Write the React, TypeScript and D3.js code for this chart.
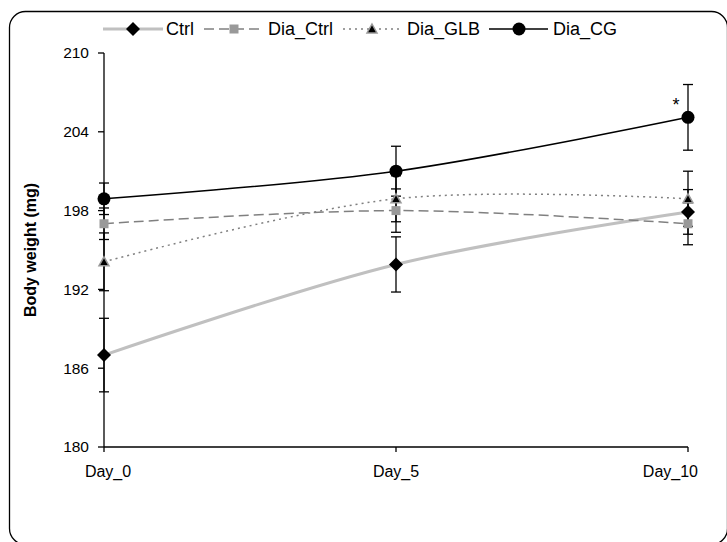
import React from "react";
import * as d3 from "d3";

const categories = ["Day_0", "Day_5", "Day_10"];
const seriesNames = ["Ctrl", "Dia_Ctrl", "Dia_GLB", "Dia_CG"];
const ctrlValues = [187.0, 193.9, 197.9];
const diaCtrlValues = [197.0, 198.0, 197.0];
const diaGlbValues = [194.1, 198.9, 198.9];
const diaCgValues = [198.9, 201.0, 205.1];
const ctrlErr = [2.8, 2.1, 1.7];
const diaCtrlErr = [1.2, 1.65, 1.6];
const diaGlbErr = [2.2, 1.75, 2.1];
const diaCgErr = [1.2, 1.9, 2.5];
const yTicks = [180, 186, 192, 198, 204, 210];

const W = 727;
const H = 542;
const FONT = "'Liberation Sans', Arial, sans-serif";

type Style = {
  stroke: string;
  width: number;
  dash?: string;
  marker: "diamond" | "square" | "triangle" | "circle";
};

const styles: Style[] = [
  { stroke: "#c0c0c0", width: 3, marker: "diamond" },
  { stroke: "#808080", width: 1.5, dash: "10,5", marker: "square" },
  { stroke: "#808080", width: 1.5, dash: "2,4", marker: "triangle" },
  { stroke: "#000000", width: 1.5, marker: "circle" },
];

function Marker({ kind, x, y }: { kind: Style["marker"]; x: number; y: number }) {
  if (kind === "diamond") {
    const s = 7;
    return <path d={`M${x},${y - s}L${x + s},${y}L${x},${y + s}L${x - s},${y}Z`} fill="#000" />;
  }
  if (kind === "square") {
    const s = 4.5;
    return <rect x={x - s} y={y - s} width={2 * s} height={2 * s} fill="#999999" />;
  }
  if (kind === "triangle") {
    const s = 5;
    return (
      <path
        d={`M${x},${y - s}L${x + s},${y + s * 0.8}L${x - s},${y + s * 0.8}Z`}
        fill="#000"
        stroke="#999999"
        strokeWidth={1.5}
      />
    );
  }
  return <circle cx={x} cy={y} r={6.5} fill="#000" />;
}

export default function App() {
  const x = d3.scalePoint<string>().domain(categories).range([104, 688]);
  const y = d3.scaleLinear().domain([180, 210]).range([447, 53]);
  const values = [ctrlValues, diaCtrlValues, diaGlbValues, diaCgValues];
  const errs = [ctrlErr, diaCtrlErr, diaGlbErr, diaCgErr];

  const line = d3
    .line<number>()
    .x((_, i) => x(categories[i]) as number)
    .y((d) => y(d))
    .curve(d3.curveCardinal.tension(0));

  const legendItems = [
    { x0: 103, x1: 163, m: 133, tx: 166 },
    { x0: 204, x1: 263, m: 234, tx: 268 },
    { x0: 343, x1: 401, m: 372, tx: 407 },
    { x0: 489, x1: 548, m: 519, tx: 553 },
  ];

  const n = categories.length;

  return (
    <svg
      width={W}
      height={H}
      style={{ position: "absolute", left: 0, top: 0, background: "#fff" }}
      fontFamily={FONT}
    >
      <rect x={9.5} y={11.5} width={718} height={533} rx={16} fill="#fff" stroke="#000" strokeWidth={1.3} />

      {/* error bars */}
      {values.map((vals, si) =>
        vals.map((v, i) => {
          const cx = x(categories[i]) as number;
          const e = errs[si][i];
          const yt = y(v + e);
          const yb = y(v - e);
          return (
            <g key={`e${si}-${i}`} stroke="#000" strokeWidth={1.3}>
              <line x1={cx} x2={cx} y1={yt} y2={yb} />
              <line x1={cx - 5} x2={cx + 5} y1={yt} y2={yt} />
              <line x1={cx - 5} x2={cx + 5} y1={yb} y2={yb} />
            </g>
          );
        })
      )}

      {/* axes */}
      <line x1={104} x2={104} y1={y(210)} y2={y(180)} stroke="#000" strokeWidth={1.3} />
      <line x1={104} x2={688} y1={y(180)} y2={y(180)} stroke="#000" strokeWidth={1.3} />
      {yTicks.map((t) => (
        <g key={t}>
          <line x1={98} x2={104} y1={y(t)} y2={y(t)} stroke="#000" strokeWidth={1.3} />
          <text x={89} y={y(t)} dy="0.35em" textAnchor="end" fontSize={15.5} fill="#000">
            {t}
          </text>
        </g>
      ))}
      {categories.map((c, i) => (
        <g key={c}>
          <line x1={x(c)} x2={x(c)} y1={y(180)} y2={y(180) + 5} stroke="#000" strokeWidth={1.3} />
          <text
            x={(x(c) as number) + (i === 0 ? 4 : i === n - 1 ? 10 : 0)}
            y={477}
            textAnchor={i === n - 1 ? "end" : "middle"}
            fontSize={16}
            fill="#000"
          >
            {c}
          </text>
        </g>
      ))}
      <text
        transform={`translate(36,250) rotate(-90)`}
        textAnchor="middle"
        fontSize={16}
        fontWeight="bold"
        fill="#000"
      >
        Body weight (mg)
      </text>

      {/* lines */}
      {values.map((vals, si) => (
        <path
          key={`l${si}`}
          d={line(vals) || ""}
          fill="none"
          stroke={styles[si].stroke}
          strokeWidth={styles[si].width}
          strokeDasharray={styles[si].dash}
        />
      ))}

      {/* markers */}
      {values.map((vals, si) =>
        vals.map((v, i) => (
          <Marker key={`m${si}-${i}`} kind={styles[si].marker} x={x(categories[i]) as number} y={y(v)} />
        ))
      )}

      <text x={676} y={111} textAnchor="middle" fontSize={18} fill="#000">
        *
      </text>

      {/* legend */}
      {legendItems.map((li, si) => (
        <g key={`lg${si}`}>
          <line
            x1={li.x0}
            x2={li.x1}
            y1={29}
            y2={29}
            stroke={styles[si].stroke}
            strokeWidth={styles[si].width}
            strokeDasharray={styles[si].dash}
          />
          <Marker kind={styles[si].marker} x={li.m} y={29} />
          <text x={li.tx} y={29} dy="0.35em" fontSize={18} fill="#000">
            {seriesNames[si]}
          </text>
        </g>
      ))}
    </svg>
  );
}
